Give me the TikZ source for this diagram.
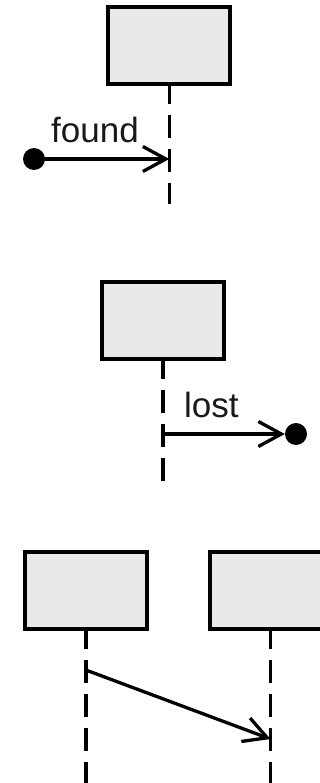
\documentclass[tikz,border=0pt]{standalone}
\usepackage{fontspec}
\setmainfont{Liberation Sans}
\usetikzlibrary{arrows.meta}
\definecolor{boxfill}{RGB}{233,233,233}
\tikzset{
  objbox/.style={draw=black, fill=boxfill, line width=4pt, minimum width=122pt, minimum height=77pt, inner sep=0pt},
  lifeline/.style={draw=black, line width=3.5pt, dash pattern=on 23pt off 11pt, dash phase=5pt},
  msg/.style={draw=black, line width=3.3pt, -{Straight Barb[length=23pt,width=25pt]}},
  enddot/.style={circle, fill=black, minimum size=22pt, inner sep=0pt},
  lbl/.style={anchor=base west, inner sep=0pt, font=\fontsize{35pt}{40pt}\selectfont, text=black!90}
}
\begin{document}
\begin{tikzpicture}[x=1pt,y=-1pt]
\clip (0,0) rectangle (320,783);
% objects
\node[objbox] (b1) at (169.3,45.3) {};
\node[objbox] (b2) at (162.8,320.5) {};
\node[objbox] (b3) at (85.8,590.3) {};
\node[objbox] (b4) at (270.5,590.3) {};
% lifeline ends
\coordinate (e1) at (b1.center |- 0,204);
\coordinate (e2) at (b2.center |- 0,481);
\coordinate (e3) at (b3.center |- 0,800);
\coordinate (e4) at (b4.center |- 0,800);
\draw[lifeline] (b1.south) -- (e1);
\draw[lifeline] (b2.south) -- (e2);
\draw[lifeline] (b3.south) -- (e3);
\draw[lifeline] (b4.south) -- (e4);
% found message
\node[enddot] (df) at (34,159) {};
\coordinate (fend) at (b1.center |- df);
\draw[msg] (df.center) -- (fend);
\node[lbl] (tfound) at (51,143) {found};
% lost message
\node[enddot] (dl) at (296,434) {};
\coordinate (lstart) at (b2.center |- dl);
\draw[msg] (lstart) -- (dl);
\node[lbl] (tlost) at (184,417) {lost};
% message between lifelines
\coordinate (ms) at (b3.center |- 0,670);
\coordinate (me) at (b4.center |- 0,739);
\draw[msg] (ms) -- (me);
\end{tikzpicture}
\end{document}
